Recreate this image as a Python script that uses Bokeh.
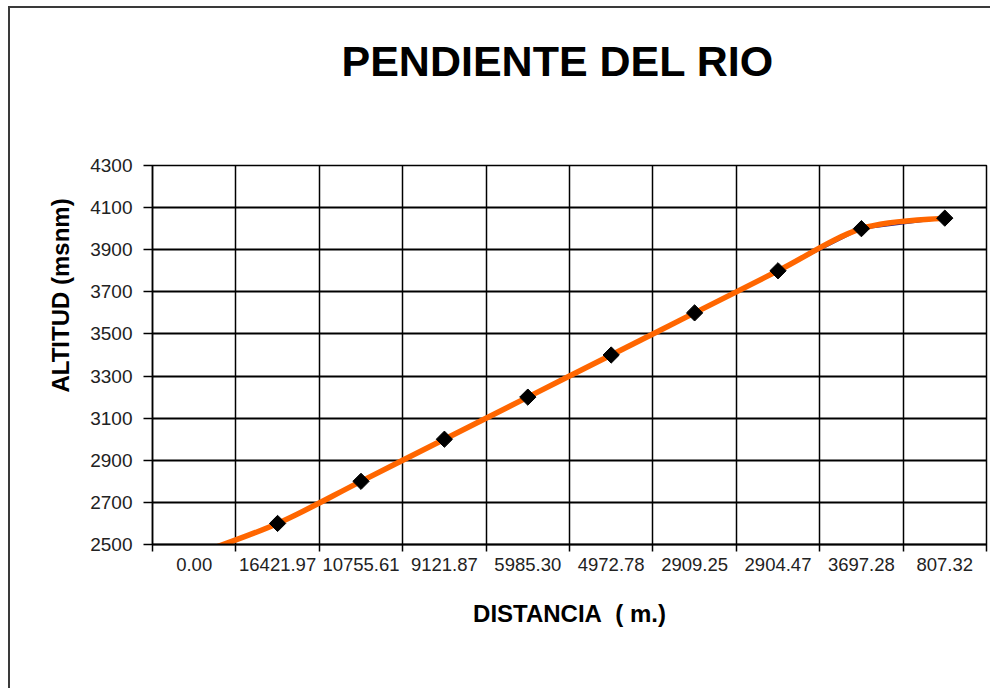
import numpy as np
from bokeh.plotting import figure
from bokeh.models import FixedTicker, Title, ColumnDataSource
from bokeh.embed import file_html
from bokeh.resources import INLINE

# ---- data ----
distances = ["0.00", "16421.97", "10755.61", "9121.87", "5985.30",
             "4972.78", "2909.25", "2904.47", "3697.28", "807.32"]
altitudes = [2450, 2600, 2800, 3000, 3200, 3400, 3600, 3800, 4000, 4050]
y_ticks = [2500, 2700, 2900, 3100, 3300, 3500, 3700, 3900, 4100, 4300]

n = len(distances)
xpos = [i + 0.5 for i in range(n)]

p = figure(width=982, height=682, x_range=(0, n), y_range=(2500, 4300),
           output_backend="svg", toolbar_location=None,
           min_border_left=142, min_border_right=6,
           min_border_top=157, min_border_bottom=146,
           background_fill_color="white", border_fill_color="white",
           styles={"margin-left": "8px", "margin-top": "6px",
                   "border-left": "2px solid #3a3a3a", "border-top": "2px solid #3a3a3a"})

p.outline_line_color = "black"
p.outline_line_width = 1.5

# title (second empty line reserves the gap between title and plot area)
p.title = Title(text="PENDIENTE DEL RIO\n", align="left", offset=189, standoff=52,
                vertical_align="top", text_line_height=1.1,
                text_font="Liberation Sans", text_font_style="bold",
                text_font_size="43px", text_color="black")

# axes
p.xaxis.ticker = FixedTicker(ticks=xpos, minor_ticks=list(range(n + 1)))
p.xaxis.major_label_overrides = {x: d for x, d in zip(xpos, distances)}
p.xaxis.major_tick_out = 0
p.xaxis.major_tick_in = 0
p.xaxis.minor_tick_out = 7
p.xaxis.minor_tick_in = 0
p.xaxis.minor_tick_line_color = "black"
p.xaxis.minor_tick_line_width = 1.5
p.xaxis.axis_line_color = "black"
p.xaxis.axis_line_width = 2
p.xaxis.major_label_text_font = "Liberation Sans"
p.xaxis.major_label_text_font_size = "18.5px"
p.xaxis.major_label_text_color = "#222222"
p.xaxis.major_label_standoff = 6
p.xaxis.axis_label = "DISTANCIA\u00a0\u00a0( m.)"
p.xaxis.axis_label_text_font = "Liberation Sans"
p.xaxis.axis_label_text_font_style = "bold"
p.xaxis.axis_label_text_font_size = "24px"
p.xaxis.axis_label_text_color = "black"
p.xaxis.axis_label_standoff = 26

p.yaxis.ticker = FixedTicker(ticks=y_ticks)
p.yaxis.major_tick_out = 9
p.yaxis.major_tick_in = 0
p.yaxis.minor_tick_out = 0
p.yaxis.minor_tick_in = 0
p.yaxis.major_tick_line_color = "black"
p.yaxis.major_tick_line_width = 1.5
p.yaxis.axis_line_color = "black"
p.yaxis.axis_line_width = 1.5
p.yaxis.major_label_text_font = "Liberation Sans"
p.yaxis.major_label_text_font_size = "19px"
p.yaxis.major_label_text_color = "#222222"
p.yaxis.major_label_standoff = 11

# y-axis title as a left-side title (positioned along the axis)
p.add_layout(Title(text="ALTITUD (msnm)", align="left", offset=152, standoff=27,
                   text_font="Liberation Sans", text_font_style="bold",
                   text_font_size="24px", text_color="black"), "left")

# grids
p.xgrid.ticker = FixedTicker(ticks=list(range(1, n)))
p.xgrid.grid_line_color = "black"
p.xgrid.grid_line_width = 1.5
p.ygrid.ticker = FixedTicker(ticks=y_ticks)
p.ygrid.grid_line_color = "black"
p.ygrid.grid_line_width = 2.2

# data line (straight segments)
src = ColumnDataSource(dict(x=xpos, y=altitudes))
p.line("x", "y", source=src, line_color="#1a1a8c", line_width=2)

# smoothed line (Catmull-Rom Bezier through the same data)
X = np.array(xpos)
Y = np.array(altitudes, dtype=float)
Xp = np.concatenate([[X[0]], X, [X[-1]]])
Yp = np.concatenate([[Y[0]], Y, [Y[-1]]])
seg = dict(
    x0=X[:-1], y0=Y[:-1], x1=X[1:], y1=Y[1:],
    cx0=X[:-1] + (Xp[2:-1] - Xp[:-3]) / 6, cy0=Y[:-1] + (Yp[2:-1] - Yp[:-3]) / 6,
    cx1=X[1:] - (Xp[3:] - Xp[1:-2]) / 6, cy1=Y[1:] - (Yp[3:] - Yp[1:-2]) / 6,
)
p.bezier(x0="x0", y0="y0", x1="x1", y1="y1", cx0="cx0", cy0="cy0", cx1="cx1", cy1="cy1",
         source=ColumnDataSource(seg), line_color="#ff6600", line_width=5.5)

p.scatter("x", "y", source=src, marker="square", angle=np.pi / 4, size=11.5,
          fill_color="black", line_color="black")

open("out.html", "w").write(file_html(p, INLINE))
